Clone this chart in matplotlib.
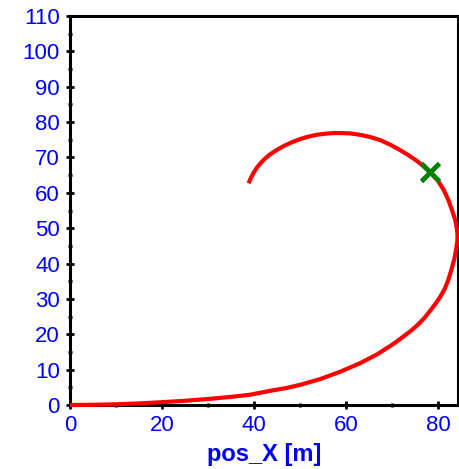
import matplotlib
matplotlib.use("Agg")
import matplotlib.pyplot as plt
from matplotlib.ticker import MultipleLocator

plt.rcParams['font.family'] = ['Liberation Sans', 'DejaVu Sans']

pos_x = [0, 5, 10, 15, 20, 25, 30, 35, 39.1, 43.5, 47.0, 50.0, 54.3, 58.7, 63.0, 66.7,
         70.3, 73.9, 75.5, 77.0, 78.4, 79.5, 80.4, 81.4, 82.2, 82.9, 83.5, 83.9, 84.15, 84.2,
         84.1, 83.7, 83.0, 82.2, 81.2, 79.9, 78.3, 76.9, 75.4, 73.6, 71.7, 69.6, 67.4,
         65.2, 63.0, 60.9, 59.0, 57.2, 55.4, 53.6, 51.8, 50.0, 48.2, 46.4, 44.9, 43.5,
         42.4, 41.4, 40.6, 39.9, 39.3, 38.8]
pos_y = [0, 0.05, 0.2, 0.45, 0.8, 1.2, 1.7, 2.3, 2.9, 4.0, 4.8, 5.7, 7.3, 9.4, 11.8, 14.3,
         17.3, 20.8, 22.6, 24.6, 26.9, 28.8, 30.5, 32.8, 35.4, 38.4, 41.3, 44.0, 46.3, 47.6,
         49.5, 52.3, 55.1, 58.0, 60.8, 63.5, 65.8, 67.4, 69.0, 70.6, 72.1, 73.6, 74.9,
         75.8, 76.4, 76.8, 76.9, 76.9, 76.7, 76.4, 75.9, 75.2, 74.3, 73.2, 72.1, 70.9,
         69.7, 68.4, 67.1, 65.7, 64.2, 62.7]
marker_x = [78.3]
marker_y = [66.0]

fig = plt.figure(figsize=(4.59, 4.69), dpi=100)
ax = fig.add_axes([70/459, 64/469, 388/459, 389/469])

ax.plot(pos_x, pos_y, color='#ff0000', lw=3.0, solid_capstyle='butt', solid_joinstyle='round',
        zorder=3, clip_on=False)
ax.plot(marker_x, marker_y, marker='x', color='#008000', ms=13.5, mew=3.5, ls='none', zorder=4)

ax.set_xlim(0, 84.3)
ax.set_ylim(0, 110)
ax.xaxis.set_major_locator(MultipleLocator(20))
ax.xaxis.set_minor_locator(MultipleLocator(10))
ax.yaxis.set_major_locator(MultipleLocator(10))
ax.yaxis.set_minor_locator(MultipleLocator(5))

for s in ax.spines.values():
    s.set_linewidth(2.2)
    s.set_color('black')

ax.tick_params(which='major', direction='inout', length=6, width=2, colors='black',
               labelcolor='#0000ff', labelsize=16, pad=4.2)
ax.tick_params(which='minor', direction='inout', length=3, width=2, colors='black')
ax.tick_params(top=False, right=False)

ax.set_xlabel('pos_X [m]', color='#0000ff', fontsize=17, fontweight='bold', labelpad=5)

fig.savefig('out.png', dpi=100)
